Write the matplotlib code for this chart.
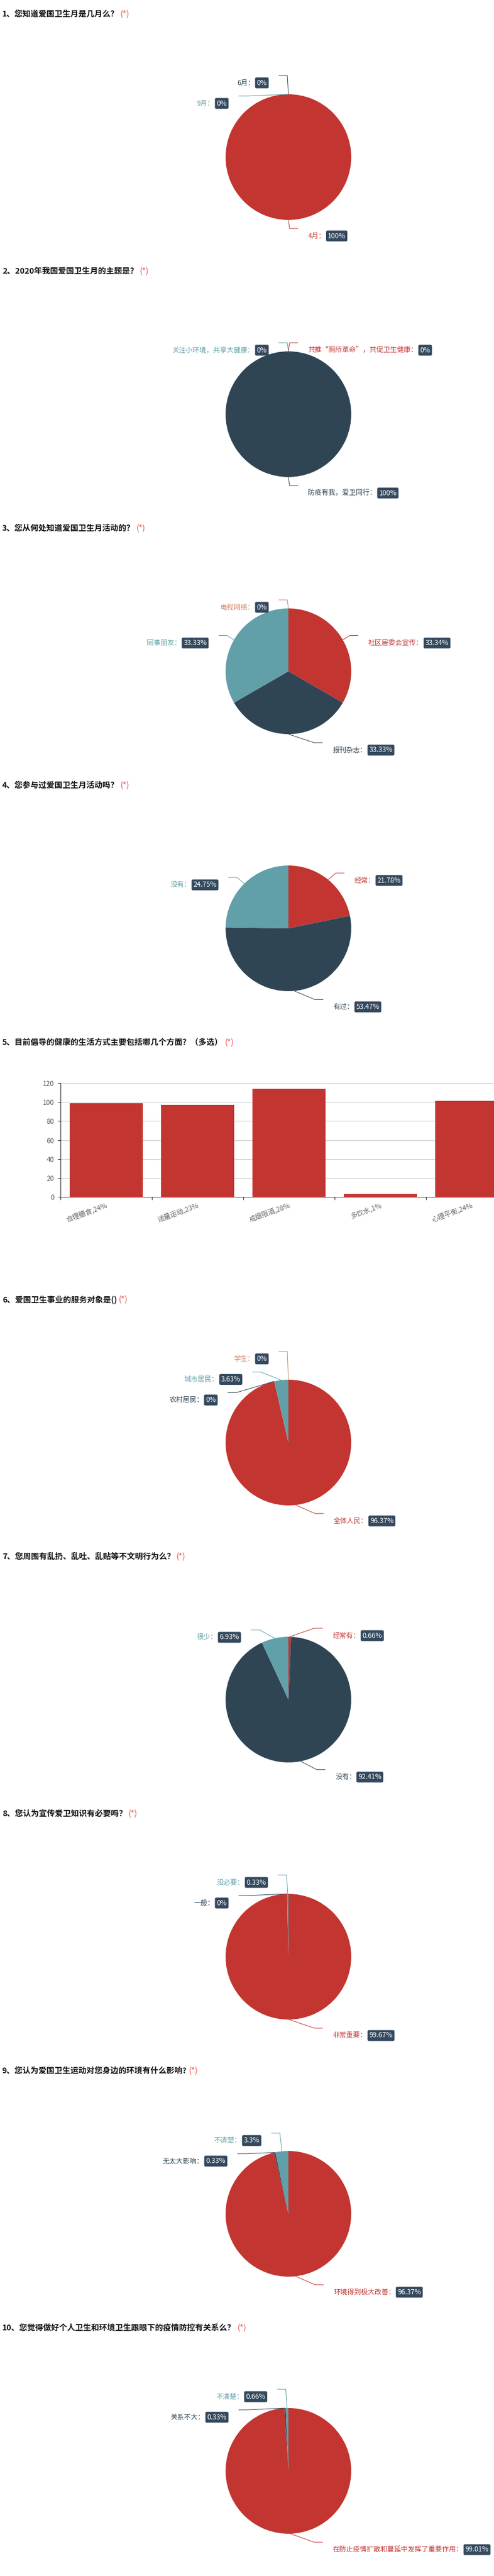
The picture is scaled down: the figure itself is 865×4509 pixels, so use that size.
import numpy as np
import matplotlib
matplotlib.use('Agg')
import matplotlib.pyplot as plt

plt.rcParams['font.family'] = ['Noto Sans CJK SC', 'DejaVu Sans']

W, H = 865, 4509
SEC = 450

# ---------------- data ----------------
titles = [
    '1、您知道爱国卫生月是几月么？',
    '2、2020年我国爱国卫生月的主题是？',
    '3、您从何处知道爱国卫生月活动的？',
    '4、您参与过爱国卫生月活动吗？',
    '5、目前倡导的健康的生活方式主要包括哪几个方面？（多选）',
    '6、爱国卫生事业的服务对象是()',
    '7、您周围有乱扔、乱吐、乱贴等不文明行为么？',
    '8、您认为宣传爱卫知识有必要吗？',
    '9、您认为爱国卫生运动对您身边的环境有什么影响?',
    '10、您觉得做好个人卫生和环境卫生跟眼下的疫情防控有关系么？',
]

q1_names = ['4月', '6月', '9月']
q1_pct = [100, 0, 0]
q2_names = ['共推“厕所革命”，共促卫生健康', '防疫有我，爱卫同行', '关注小环境，共享大健康']
q2_pct = [0, 100, 0]
q3_names = ['社区居委会宣传', '报刊杂志', '同事朋友', '电视网络']
q3_pct = [33.34, 33.33, 33.33, 0]
q4_names = ['经常', '有过', '没有']
q4_pct = [21.78, 53.47, 24.75]
q5_cats = ['合理膳食,24%', '适量运动,23%', '戒烟限酒,28%', '多饮水,1%', '心理平衡,24%']
q5_vals = [99, 97, 114, 3, 101]
q6_names = ['全体人民', '农村居民', '城市居民', '学生']
q6_pct = [96.37, 0, 3.63, 0]
q7_names = ['经常有', '没有', '很少']
q7_pct = [0.66, 92.41, 6.93]
q8_names = ['非常重要', '一般', '没必要']
q8_pct = [99.67, 0, 0.33]
q9_names = ['环境得到极大改善', '无太大影响', '不清楚']
q9_pct = [96.37, 0.33, 3.3]
q10_names = ['在防止疫情扩散和蔓延中发挥了重要作用', '关系不大', '不清楚']
q10_pct = [99.01, 0.33, 0.66]

PALETTE = ['#c23531', '#2f4554', '#61a0a8', '#d48265']
BOXC = '#34495e'
PX = 0.72  # points per pixel at dpi 100

fig = plt.figure(figsize=(W / 100, H / 100), dpi=100)
fig.patch.set_facecolor('white')
ov = fig.add_axes([0, 0, 1, 1], zorder=10)
ov.set_xlim(0, W)
ov.set_ylim(H, 0)
ov.axis('off')
ov.patch.set_visible(False)
renderer = fig.canvas.get_renderer()


def draw_title(k, title):
    y = k * SEC + 25
    t = ov.text(4, y, title, fontsize=14 * PX, fontweight='bold', color='#111',
                va='center', ha='left')
    x1 = t.get_window_extent(renderer=renderer).x1
    ov.text(x1 + 3, y, '(*)', fontsize=14 * PX, color='#ee4b4b', va='center', ha='left')


def adjust_side(lst, cx, cy, r, L1, L2, h, d):
    lst.sort(key=lambda a: a['y'])
    n = len(lst)

    def shift_up(end, delta):
        for j in range(end, -1, -1):
            lst[j]['y'] -= delta
            if j > 0 and lst[j]['y'] > lst[j - 1]['y'] + h:
                break

    def shift_down(start, end, delta):
        for j in range(start, end):
            lst[j]['y'] += delta
            if j > start and j + 1 < end and lst[j + 1]['y'] > lst[j]['y'] + h:
                shift_up(j, delta / 2)
                return
        shift_up(end - 1, delta / 2)

    last_y = 0
    for i in range(n):
        delta = lst[i]['y'] - last_y
        if delta < 0:
            shift_down(i, n, -delta)
        last_y = lst[i]['y'] + h

    up = [a for a in lst if a['y'] < cy]
    down = [a for a in lst if a['y'] >= cy]
    R = r + L1 + L2
    for group, is_down in ((up, False), (down, True)):
        last_dx = 1e18 if is_down else 0
        for a in group:
            dy = abs(a['y'] - cy)
            ddx = np.sqrt(R * R - dy * dy) if dy < r + L1 - 1e-6 else abs(a['x'] - cx)
            if is_down and ddx >= last_dx:
                ddx = last_dx - 10
            if (not is_down) and ddx <= last_dx:
                ddx = last_dx + 10
            a['x'] = cx + ddx * d
            last_dx = ddx


def draw_pie(k, names, pcts):
    cx0, cy0, r0 = 505, k * SEC + 275, 110
    ax = fig.add_axes([(cx0 - r0) / W, 1 - (cy0 + r0) / H, 2 * r0 / W, 2 * r0 / H])
    ax.pie(pcts, colors=PALETTE[:len(pcts)], startangle=90,
           counterclock=False, wedgeprops=dict(linewidth=0))
    ax.set_xlim(-1, 1)
    ax.set_ylim(-1, 1)
    c = ax.transData.transform((0, 0))
    e = ax.transData.transform((1, 0))
    cx, cy, r = c[0], H - c[1], e[0] - c[0]
    fr = np.asarray(pcts, float) / np.sum(pcts)
    mids = np.cumsum(fr) - fr / 2
    L1, L2, h = 15, 15, 36
    labs = []
    for i, mf in enumerate(mids):
        ang = -np.pi / 2 + 2 * np.pi * mf   # clockwise from top, screen coords
        dx, dy = np.cos(ang), np.sin(ang)
        if abs(dx) < 1e-3:
            side = 1 if mf < 0.75 else -1
        else:
            side = 1 if dx > 0 else -1
        x1, y1 = cx + r * dx, cy + r * dy
        x2, y2 = x1 + dx * L1, y1 + dy * L1
        x3 = x2 + side * L2
        labs.append(dict(i=i, side=side, p1=(x1, y1), x=x3 + side * 5, y=y2))
    for d in (1, -1):
        adjust_side([a for a in labs if a['side'] == d], cx, cy, r, L1, L2, h, d)
    for a in labs:
        i, d = a['i'], a['side']
        col = PALETTE[i]
        xe = a['x'] - 3 * d
        xel = xe - L2 * d
        ov.plot([a['p1'][0], xel, xe], [a['p1'][1], a['y'], a['y']], color=col,
                lw=1 * PX, solid_capstyle='butt', zorder=3)
        ty = a['y'] + 13
        pad = 3
        txt = '{:g}%'.format(pcts[i])
        bbox = dict(boxstyle='round,pad=0.25,rounding_size=0.2', fc=BOXC, ec='none')
        if d > 0:
            tn = ov.text(a['x'] + 14.5, ty, names[i] + '：', color=col, fontsize=12 * PX,
                         ha='left', va='center')
            xn = tn.get_window_extent(renderer=renderer).x1
            ov.text(xn + 1 + pad, ty, txt, color='white', fontsize=12 * PX,
                    ha='left', va='center', bbox=bbox)
        else:
            tb = ov.text(a['x'] - 14.5 - pad, ty, txt, color='white', fontsize=12 * PX,
                         ha='right', va='center', bbox=bbox)
            xb = tb.get_window_extent(renderer=renderer).x0
            ov.text(xb - pad - 1, ty, names[i] + '：', color=col, fontsize=12 * PX,
                    ha='right', va='center')


def draw_bar(k, cats, vals):
    x0, top, bot = 105.7, k * SEC + 95.7, k * SEC + 295.3
    axb = fig.add_axes([x0 / W, 1 - bot / H, 800 / W, (bot - top) / H])
    xs = np.arange(len(cats))
    axb.bar(xs, vals, width=0.8, color='#c23531', zorder=2)
    axb.set_xlim(-0.5, len(cats) - 0.5)
    axb.set_ylim(0, 120)
    axb.set_yticks(np.arange(0, 121, 20))
    axb.grid(axis='y', color='#cccccc', lw=1 * PX, zorder=0)
    axb.set_axisbelow(True)
    for s in ('top', 'right'):
        axb.spines[s].set_visible(False)
    for s in ('left', 'bottom'):
        axb.spines[s].set_color('#333333')
        axb.spines[s].set_linewidth(1 * PX)
    axb.set_xticks(xs)
    axb.set_xticklabels(cats)
    axb.set_xticks(np.arange(-0.5, len(cats), 1), minor=True)
    axb.tick_params(axis='x', which='major', length=0, pad=6, labelsize=12 * PX,
                    labelcolor='#666666')
    axb.tick_params(axis='x', which='minor', length=5 * PX, width=1 * PX, color='#333333')
    axb.tick_params(axis='y', length=5 * PX, width=1 * PX, color='#333333', pad=4,
                    labelsize=12 * PX, labelcolor='#555555')
    for t in axb.get_xticklabels():
        t.set_rotation(20)
        t.set_ha('right')
        t.set_rotation_mode('anchor')


pies = {
    0: (q1_names, q1_pct), 1: (q2_names, q2_pct), 2: (q3_names, q3_pct),
    3: (q4_names, q4_pct), 5: (q6_names, q6_pct), 6: (q7_names, q7_pct),
    7: (q8_names, q8_pct), 8: (q9_names, q9_pct), 9: (q10_names, q10_pct),
}

for k, title in enumerate(titles):
    draw_title(k, title)
    if k == 4:
        draw_bar(k, q5_cats, q5_vals)
    else:
        draw_pie(k, *pies[k])

fig.savefig('out.png', dpi=100, facecolor='white')
